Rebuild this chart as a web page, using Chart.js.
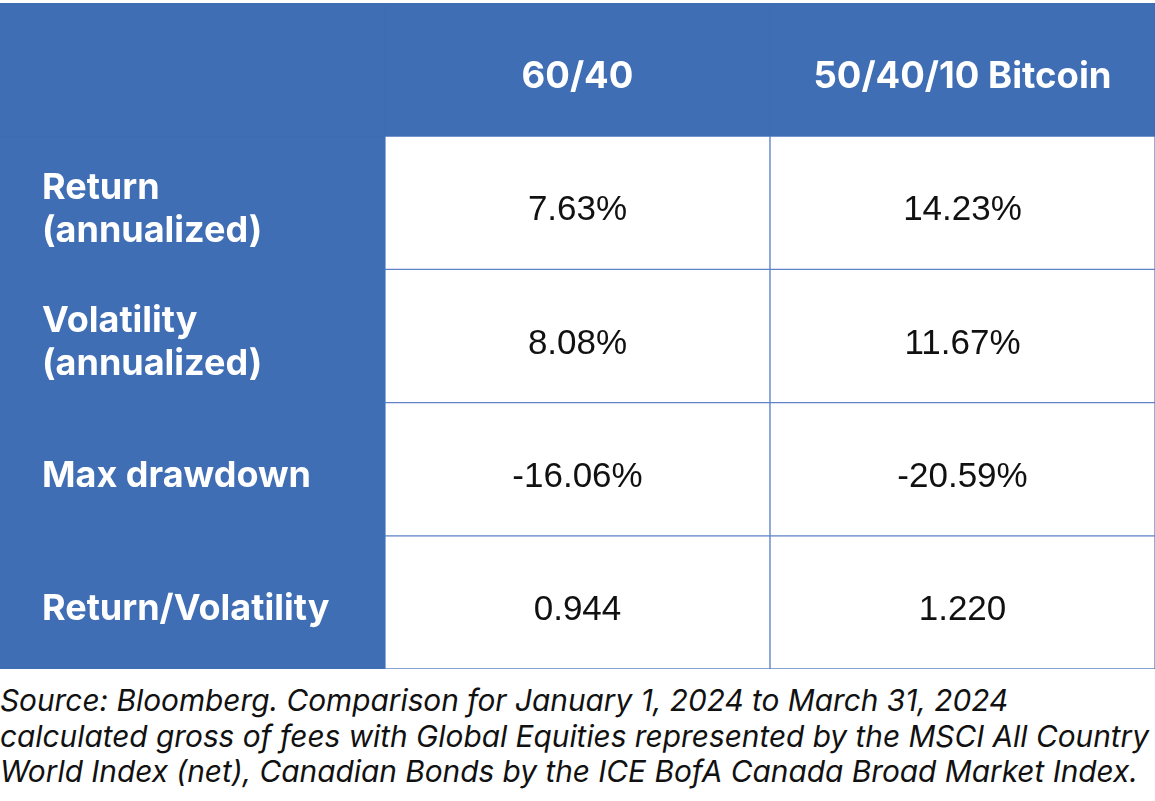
<!DOCTYPE html>
<html>
<head>
<meta charset="utf-8">
<script src="https://cdn.jsdelivr.net/npm/chart.js@4.4.1/dist/chart.umd.min.js"></script>
<style>
  html, body { margin: 0; padding: 0; background: #fff; }
  #wrap { position: relative; width: 1155px; height: 801px; overflow: hidden; }
  #tbl { display: block; }
  #note {
    position: absolute; left: 0; top: 683px;
    font: italic 29.8px Inter, "Noto Sans", sans-serif;
    line-height: 35.5px; color: #111; white-space: nowrap;
  }
</style>
</head>
<body>
<div id="wrap">
  <canvas id="tbl" width="1155" height="669" style="width:1155px;height:669px"></canvas>
  <div id="note"></div>
</div>
<script>
// ===== Data =====
const columns = ["Metric", "60/40", "50/40/10 Bitcoin"];
const rowLabels = [
  ["Return", "(annualized)"],
  ["Volatility", "(annualized)"],
  ["Max drawdown"],
  ["Return/Volatility"]
];
const portfolio6040 = [7.63, 8.08, -16.06, 0.944];
const portfolioBtc  = [14.23, 11.67, -20.59, 1.220];
const valueKinds    = ["pct", "pct", "pct", "ratio"];
const footnote = [
  "Source: Bloomberg. Comparison for January 1, 2024 to March 31, 2024",
  "calculated gross of fees with Global Equities represented by the MSCI All Country",
  "World Index (net), Canadian Bonds by the ICE BofA Canada Broad Market Index."
];

// ===== Style =====
const BLUE = "#3f6eb5";
const LINE = "#5f83c6";
const WHITE = "#ffffff";

const fmt = (v, kind) => kind === "pct" ? v.toFixed(2) + "%" : v.toFixed(3);

// one floating-bar dataset per table row (header + 4 metric rows)
const nRows = rowLabels.length + 1;
const datasets = [];
for (let r = 0; r < nRows; r++) {
  const header = r === 0;
  datasets.push({
    data: columns.map(() => [r, r + 1]),
    backgroundColor: columns.map((c, j) => (header || j === 0) ? BLUE : WHITE),
    borderColor: columns.map((c, j) => (header || j === 0) ? BLUE : LINE),
    borderWidth: 1,
    borderSkipped: false,
    grouped: false,
    barPercentage: 1,
    categoryPercentage: 1
  });
}

// ===== Cell text =====
const cellText = {
  id: "cellText",
  afterDatasetsDraw(chart) {
    const { ctx, scales: { x, y } } = chart;
    ctx.save();
    ctx.textBaseline = "middle";

    // header row
    ctx.fillStyle = WHITE;
    ctx.font = "bold 36.5px Inter, sans-serif";
    ctx.textAlign = "center";
    for (let j = 1; j < columns.length; j++) {
      ctx.fillText(columns[j], x.getPixelForValue(j), y.getPixelForValue(0.5) + 7);
    }

    // row labels (left column)
    ctx.textAlign = "left";
    ctx.font = "bold 36px Inter, sans-serif";
    const lh = 43;
    rowLabels.forEach((lines, i) => {
      const cy = y.getPixelForValue(i + 1.5) + 7;
      const top = cy - (lines.length - 1) * lh / 2;
      lines.forEach((t, k) => ctx.fillText(t, 42, top + k * lh));
    });

    // values
    ctx.textAlign = "center";
    ctx.fillStyle = "#111111";
    ctx.font = "35px 'Liberation Sans', Arial, sans-serif";
    [portfolio6040, portfolioBtc].forEach((vals, c) => {
      vals.forEach((v, i) => {
        ctx.fillText(fmt(v, valueKinds[i]), x.getPixelForValue(c + 1), y.getPixelForValue(i + 1.5) + 8);
      });
    });
    ctx.restore();
  }
};

new Chart(document.getElementById("tbl"), {
  type: "bar",
  data: { labels: columns, datasets },
  options: {
    responsive: false,
    animation: false,
    events: [],
    layout: { padding: { top: 3, left: 0, right: 0, bottom: 0 } },
    plugins: { legend: { display: false }, tooltip: { enabled: false } },
    scales: {
      x: { type: "category", display: false, offset: true },
      y: { type: "linear", display: false, reverse: true, min: 0, max: nRows }
    }
  },
  plugins: [cellText]
});

document.getElementById("note").innerHTML = footnote.join("<br>");
</script>
</body>
</html>
